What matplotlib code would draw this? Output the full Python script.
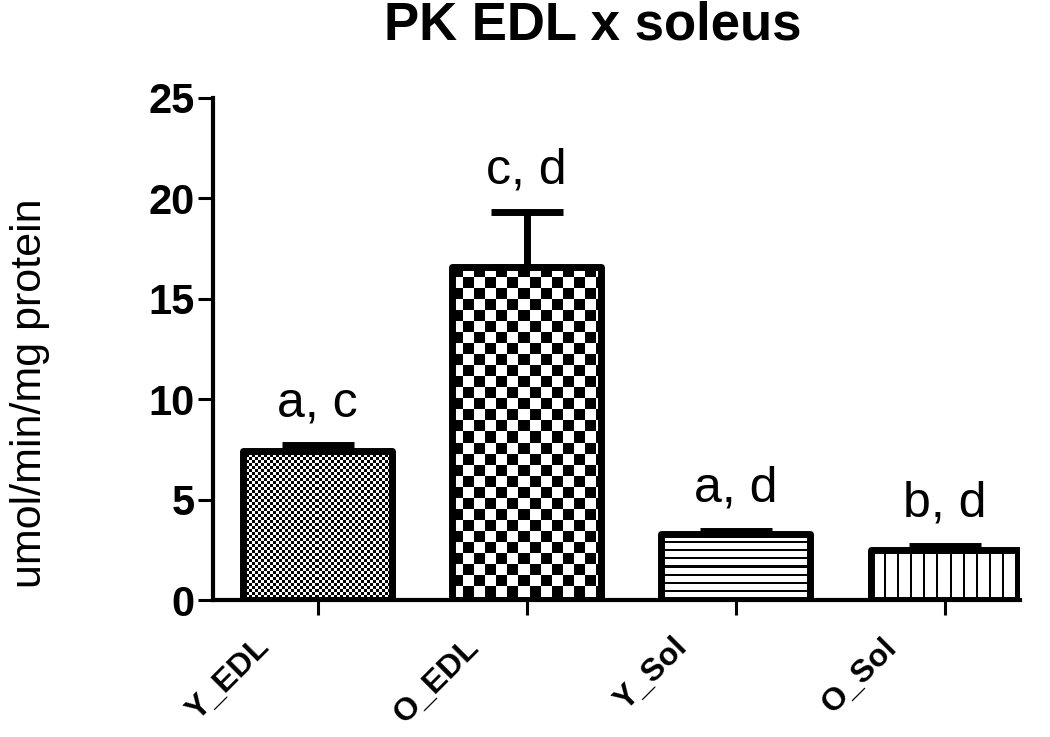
import matplotlib
matplotlib.use("Agg")
import matplotlib.pyplot as plt
import matplotlib.transforms as mtransforms
import numpy as np

plt.rcParams["font.family"] = ["Liberation Sans", "DejaVu Sans"]

groups = ["Y_EDL", "O_EDL", "Y_Sol", "O_Sol"]
means = [7.4, 16.6, 3.3, 2.5]
sems = [0.3, 2.7, 0.15, 0.2]
letters = ["a, c", "c, d", "a, d", "b, d"]
patterns = ["fine_check", "check", "hlines", "vlines"]


def make_pattern(kind, w, h):
    """Returns a w*h grey image (1 = white, 0 = black) for the bar fill."""
    yy, xx = np.mgrid[0:h, 0:w]
    img = np.ones((h, w))
    if kind == "fine_check":
        img[((xx // 3) + (yy // 3)) % 2 == 0] = 0
    elif kind == "check":
        img[((xx // 11) + (yy // 11)) % 2 == 0] = 0
    elif kind == "hlines":
        img[(yy % 8) < 2] = 0
    elif kind == "vlines":
        img[(xx % 13) < 2] = 0
    return img


fig = plt.figure(figsize=(10.5, 7.37), dpi=100)
ax = fig.add_axes([213 / 1050, 1 - 600 / 737, (1020 - 213) / 1050, (600 - 98) / 737])

x = np.arange(len(groups))
bars = ax.bar(x, means, width=0.71, facecolor="none", edgecolor="black",
              linewidth=5, joinstyle="round", zorder=3)
ax.errorbar(x, means, yerr=[np.zeros(len(sems)), sems], fmt="none",
            ecolor="black", elinewidth=5, capsize=26, capthick=5, zorder=4)

ax.set_xlim(-0.5, 3.36)
ax.set_ylim(0, 25)

# pattern fills, clipped to each bar
for bar, kind in zip(bars, patterns):
    x0, y0 = bar.get_x(), bar.get_y()
    x1, y1 = x0 + bar.get_width(), y0 + bar.get_height()
    p0 = ax.transData.transform((x0, y0))
    p1 = ax.transData.transform((x1, y1))
    w_px = int(round(p1[0] - p0[0]))
    h_px = int(round(p1[1] - p0[1]))
    img = make_pattern(kind, w_px, h_px)
    im = ax.imshow(img, extent=(x0, x1, y0, y1), cmap="gray", vmin=0, vmax=1,
                   interpolation="nearest", aspect="auto", origin="upper", zorder=2)
    im.set_clip_path(bar)

ax.set_xlim(-0.5, 3.36)
ax.set_ylim(0, 25)

for xi, m, s, lab in zip(x, means, sems, letters):
    ax.annotate(lab, (xi, m + s), xytext=(0, 21), textcoords="offset points",
                ha="center", va="baseline", fontsize=36)

ax.spines["top"].set_visible(False)
ax.spines["right"].set_visible(False)
ax.spines["left"].set_linewidth(3)
ax.spines["bottom"].set_linewidth(3)

ax.set_yticks([0, 5, 10, 15, 20, 25])
ax.tick_params(axis="y", direction="out", length=11, width=2.2, pad=2,
               labelsize=30)
for t in ax.get_yticklabels():
    t.set_fontweight("bold")

ax.set_xticks(x)
ax.set_xticklabels(groups, rotation=45, ha="right", va="top",
                   rotation_mode="anchor", fontsize=23, fontweight="bold")
ax.tick_params(axis="x", direction="out", length=11, width=2.2, pad=12)
shift = mtransforms.ScaledTranslation(-0.63, 0.0, fig.dpi_scale_trans)
for t in ax.get_xticklabels():
    t.set_transform(t.get_transform() + shift)

fig.text(593 / 1050, 1 - 40 / 737, "PK EDL x soleus", ha="center",
         va="baseline", fontsize=38, fontweight="bold")
fig.text(30 / 1050, 1 - 393 / 737, "umol/min/mg protein", rotation=90,
         ha="center", va="center", fontsize=31)

fig.savefig("out.png", dpi=100)
